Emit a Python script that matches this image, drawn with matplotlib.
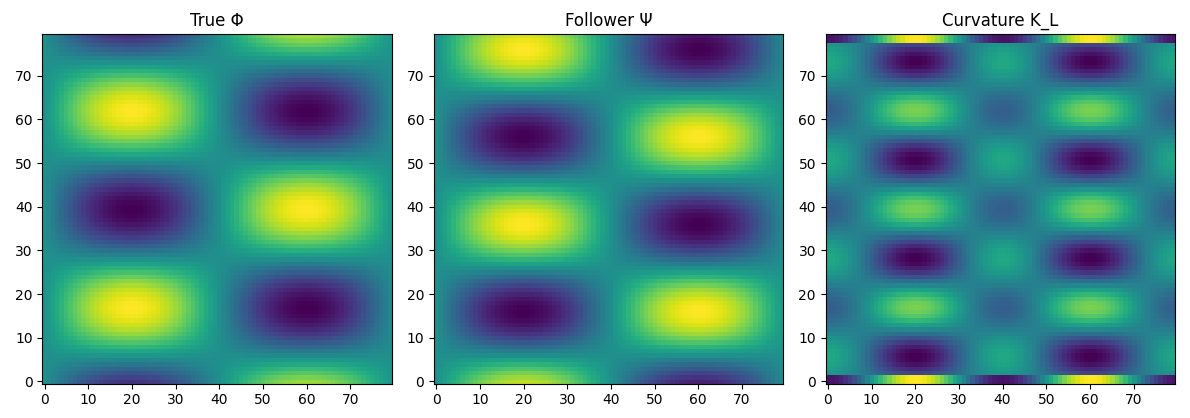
import numpy as np
import matplotlib.pyplot as plt

# grid size and field parameters
n = 80
titles = ["True Φ", "Follower Ψ", "Curvature K_L"]
x_period = 80.0
phi_y_period, phi_y_shift = 45.0, 5.6
psi_y_period, psi_y_shift = 40.0, 26.0
k_y_period, k_y_peak = 22.5, 17.0
k_coef = [0.45, -0.15, -0.05, 0.55]   # base, y-mode, x-mode, cross term

x = np.arange(n)
y = np.arange(n)
X, Y = np.meshgrid(x, y)

sx = np.sin(2 * np.pi * X / x_period)
phi = sx * np.sin(2 * np.pi * (Y - phi_y_shift) / phi_y_period)
psi = sx * np.sin(2 * np.pi * (Y - psi_y_shift) / psi_y_period)

g = np.cos(2 * np.pi * (Y - k_y_peak) / k_y_period)
s2 = sx ** 2
a, b, c, d = k_coef
kl = a + b * g + c * s2 + d * g * s2
kl[:2, :] = 0.05 + 0.95 * s2[:2, :]
kl[-2:, :] = 0.05 + 0.95 * s2[-2:, :]

fig, axes = plt.subplots(1, 3, figsize=(11.9, 4.18), dpi=100)
for ax, field, title in zip(axes, [phi, psi, kl], titles):
    ax.imshow(field, origin='lower', cmap='viridis')
    ax.set_title(title)
    ax.set_xticks(range(0, 80, 10))
    ax.set_yticks(range(0, 80, 10))
plt.tight_layout()
plt.savefig('out.png')
